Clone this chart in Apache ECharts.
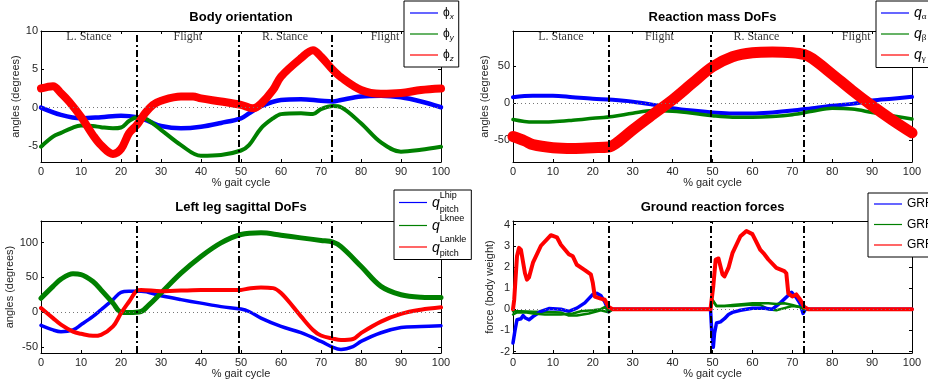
<!DOCTYPE html>
<html><head><meta charset="utf-8">
<script src="https://cdn.jsdelivr.net/npm/echarts@6/dist/echarts.min.js"></script>
<style>html,body{margin:0;padding:0;background:#fff}#c{width:928px;height:385px}</style>
</head><body><div id="c"></div>
<script>
// ---------- DATA ----------
const phaseBounds = [24, 49.5, 72.8];
const phaseNames = ['L. Stance', 'Flight', 'R. Stance', 'Flight'];
const phaseCenters = [12, 36.7, 61, 86];

// Panel 1: Body orientation (deg)
const phiX_t = [0,5,10,15,20,24,27,30,35,40,45,50,52,55,60,65,70,73,75,80,85,90,95,100];
const phiX   = [0,-0.95,-1.4,-1.25,-1.05,-1.25,-1.8,-2.4,-2.7,-2.5,-2.0,-1.4,-0.75,0.2,1.0,1.1,0.9,0.8,1.0,1.45,1.55,1.35,0.8,0.05];
const phiY_t = [0,3,5,8,10,13,15,18,20,22,24,26,30,35,40,45,50,52,55,58,60,65,68,70,73,75,80,85,90,95,100];
const phiY   = [-5.1,-3.8,-3.3,-2.6,-2.35,-2.4,-2.55,-2.7,-2.6,-1.75,-1.25,-1.4,-2.9,-4.9,-6.3,-6.2,-5.6,-4.9,-2.7,-1.4,-0.85,-0.75,-0.85,-0.2,0.2,0.05,-2.05,-4.55,-5.75,-5.5,-5.1];
const phiZ_t = [0,3,5,7,10,13,15,18,20,22,24,26,28,30,35,38,40,45,50,53,55,58,60,65,68,70,73,75,80,85,90,95,100];
const phiZ   = [2.5,2.8,1.9,0.8,-1.2,-3.6,-4.9,-6.05,-5.4,-3.35,-2.25,-0.75,0.35,0.9,1.45,1.45,1.2,0.8,0.35,-0.1,0.5,2.3,4.05,6.45,7.5,6.65,4.9,3.95,2.3,1.8,1.9,2.3,2.5];

// Panel 2: Reaction mass DoFs (deg)
const rm_t   = [0,5,10,15,20,25,30,35,40,45,50,55,60,65,70,75,80,85,90,95,100];
const qAlpha = [8,10,10,8,6,4.5,2,-2,-6.7,-10,-12.5,-14,-14,-12.5,-10,-6.7,-3.5,-1,3.5,6,8.5];
const qBeta  = [-22,-25.5,-25,-23,-20.5,-18,-13.5,-10,-11,-13.5,-17,-19,-19,-18,-15.5,-11,-7,-8,-12.5,-17,-21.5];
const qGamma_t = [0,3,5,10,15,20,24,26,30,35,40,45,50,55,60,65,70,73,75,80,85,90,95,100];
const qGamma   = [-45,-51,-56,-60,-61,-60,-59,-53.5,-36,-15.5,4.5,27,49,62.5,68,69,68,65.5,60,39,17,-3.5,-22.5,-40];

// Panel 3: Left leg sagittal DoFs (deg)
const hip_t = [0,3,5,8,10,13,15,18,20,22,25,30,35,40,45,50,52,55,60,65,70,73,75,78,80,85,90,95,100];
const hip   = [-19,-25.5,-28,-25.5,-18,-6,3.5,18,28.5,30,30,23.5,18,13,8,4.5,1,-8.5,-20.5,-29.5,-42,-50.5,-53.5,-49.5,-42,-29.5,-22,-20.5,-19.5];
const knee_t = [0,3,5,8,10,13,15,18,20,22,25,27,30,35,40,45,50,55,60,65,70,73,75,80,85,90,95,100];
const knee   = [20,37,47.5,55,54,44,32,13,0,-0.5,1,10.5,27.5,56,80,99.5,111.5,114,110.5,106.7,103,100.5,94,66,37,25,21.5,21];
const ankle_t = [0,3,5,8,10,13,15,18,20,22,24,25,30,40,50,52,55,58,60,63,65,68,70,73,75,78,80,85,90,95,100];
const ankle   = [6,-8.5,-18,-28,-31,-34,-32.5,-20.5,-1.5,15,31,32,30,32,32,34,35.5,34.5,27.5,8,-6,-25.5,-33.5,-38,-40,-38.5,-30,-13.5,-2.5,3.5,7];

// Panel 4: Ground reaction forces (body weight)
const grfX_t = [0,0.5,1,2,2.5,3,4,5,7,9,12,14,16,18,20,21,22,23,24,24.5,25,49.5,49.8,50.2,50.5,51,52,53,54,55,57,60,63,65,67,69.8,71,72,72.7,73.3,74,100];
const grfX   = [-1.6,-1.0,-0.5,-0.45,-0.3,-0.4,-0.5,-0.35,-0.1,0.03,0,-0.1,0.05,0.3,0.7,0.75,0.65,0.35,-0.1,0,0,0,-1.0,-1.8,-1.15,-0.65,-0.6,-0.45,-0.25,-0.15,-0.05,0.05,0.05,0.0,0.3,0.8,0.55,0.25,-0.2,0,0,0];
const grfY_t = [0,1,3,5,8,12,15,17,20,22,23,24,25,49.5,50,51,53,55,58,60,62,64,66,68,70,72,73,74,100];
const grfY   = [-0.25,-0.15,-0.15,-0.2,-0.25,-0.25,-0.2,-0.1,-0.05,0,0.1,-0.1,0,0,0.45,0.15,0.15,0.2,0.25,0.28,0.28,0.28,0.25,0.28,0.2,0.1,0.0,0,0];
const grfY2_t = [0,2,5,9,12,14,16,19,22,24,25,49.5,50,51,55,60,62,64,66,68,70,72,73,74];
const grfY2   = [-0.1,-0.1,-0.12,-0.13,-0.15,-0.3,-0.3,-0.2,-0.05,-0.15,0,0,0.4,0.15,0.15,0.22,0.2,0.0,-0.05,0.05,0.15,0.1,0,0];
const grfZ_t = [0,0.3,1,1.5,2,3,3.5,4,5,7,9.5,11,12,14,15,16,18,19.5,20,20.5,21,22,23,24,25,49.5,50.2,50.8,51.5,52.5,53,54,55,57,58.5,60,62,63,64,66,68,68.5,69,70,71,72,73,74,100];
const grfZ   = [0,0.45,2.5,2.9,2.8,1.7,1.4,1.5,2.2,3.0,3.5,3.4,3.05,2.6,2.5,2.1,1.85,1.65,1.25,0.6,0.6,0.5,0.45,0.1,0,0,1.1,2.35,2.4,1.65,1.55,1.95,2.65,3.45,3.7,3.55,2.8,2.6,2.35,1.95,1.8,1.7,0.75,0.6,0.7,0.45,0.1,0,0];

// Axes
const titles = ['Body orientation', 'Reaction mass DoFs', 'Left leg sagittal DoFs', 'Ground reaction forces'];
const yNames = ['angles (degrees)', 'angles (degrees)', 'angles (degrees)', 'force (body weight)'];
const xName = '% gait cycle';
const yLimits = [[-7.1, 10], [-79.3, 97.2], [-58.6, 130.9], [-2.07, 4.17]];
const yTicks = [[-5, 0, 5, 10], [-50, 0, 50], [-50, 0, 50, 100], [-2, -1, 0, 1, 2, 3, 4]];
const xTicksInterval = 10;
const phaseLabelY = [9.2, 89];

// ---------- CHART ----------
const zip = (xs, ys) => xs.map((x, i) => [x, ys[i]]);
const FONT = '"Liberation Sans", Arial, Helvetica, sans-serif';
const SERIF = '"Liberation Serif", "Times New Roman", serif';
const BLUE = '#0000ff', GREEN = '#008000', RED = '#ff0000';

const grids = [
  {left: 41, top: 31, width: 400, height: 131},
  {left: 513, top: 31, width: 399, height: 131},
  {left: 41, top: 221, width: 400, height: 132},
  {left: 513, top: 221, width: 399, height: 132}
];
const titleY = [17.3, 17.3, 207.7, 207.7];
const xNameGap = [15.5, 15.5, 14.5, 14.5];
const yNameGap = [17.3, 23, 22.7, 18];

const xAxes = [], yAxes = [];
grids.forEach((g, i) => {
  const common = {
    gridIndex: i, type: 'value', min: 0, max: 100, interval: xTicksInterval,
    axisLine: {show: true, onZero: false, lineStyle: {color: '#000', width: 1}},
    axisTick: {show: true, inside: true, length: 3, lineStyle: {color: '#000'}},
    splitLine: {show: false}
  };
  xAxes.push(Object.assign({}, common, {
    position: 'bottom',
    axisLabel: {show: true, color: '#262626', fontSize: 11, fontFamily: FONT, margin: 4},
    name: xName, nameLocation: 'middle', nameGap: xNameGap[i],
    nameTextStyle: {fontSize: 11, fontFamily: FONT, color: '#262626'}
  }));
  xAxes.push(Object.assign({}, common, {position: 'top', axisLabel: {show: false}}));
  const yc = {
    gridIndex: i, type: 'value', min: yLimits[i][0], max: yLimits[i][1],
    axisLine: {show: true, onZero: false, lineStyle: {color: '#000', width: 1}},
    axisTick: {show: true, inside: true, length: 3, lineStyle: {color: '#000'}, customValues: yTicks[i]},
    splitLine: {show: false}
  };
  yAxes.push(Object.assign({}, yc, {
    position: 'left',
    axisLabel: {show: true, color: '#262626', fontSize: 11, fontFamily: FONT, margin: 3, customValues: yTicks[i]},
    name: yNames[i], nameLocation: 'middle', nameGap: yNameGap[i], nameRotate: 90,
    nameTextStyle: {fontSize: 11, fontFamily: FONT, color: '#262626'}
  }));
  yAxes.push(Object.assign({}, yc, {position: 'right', axisLabel: {show: false}}));
});

function line(name, g, xs, ys, color, width, smooth) {
  return {
    type: 'line', name, xAxisIndex: 2 * g, yAxisIndex: 2 * g,
    data: zip(xs, ys), symbol: 'none', showSymbol: false,
    smooth: smooth === undefined ? 0.35 : smooth,
    lineStyle: {color, width, cap: 'round', join: 'round'},
    itemStyle: {color}, z: 3, animation: false
  };
}
const zeroLine = {
  silent: true, symbol: ['none', 'none'], label: {show: false}, animation: false,
  lineStyle: {color: '#777', type: [1, 3], width: 1}, data: [{yAxis: 0}]
};
const phaseLines = {
  silent: true, symbol: ['none', 'none'], label: {show: false}, animation: false,
  lineStyle: {color: '#000', type: [7, 3, 2, 3], width: 2},
  data: phaseBounds.map(v => ({xAxis: v}))
};

const series = [
  line('phix', 0, phiX_t, phiX, BLUE, 4.5),
  line('phiy', 0, phiY_t, phiY, GREEN, 4),
  line('phiz', 0, phiZ_t, phiZ, RED, 8),
  line('qa', 1, rm_t, qAlpha, BLUE, 4),
  line('qb', 1, rm_t, qBeta, GREEN, 3.5),
  line('qg', 1, qGamma_t, qGamma, RED, 11),
  line('qhip', 2, hip_t, hip, BLUE, 3.5),
  line('qknee', 2, knee_t, knee, GREEN, 5),
  line('qankle', 2, ankle_t, ankle, RED, 4),
  line('GRFx', 3, grfX_t, grfX, BLUE, 3.5, false),
  line('GRFy', 3, grfY_t, grfY, GREEN, 2.5, false),
  line('GRFz', 3, grfZ_t, grfZ, RED, 4, false),
  line('GRFy-b', 3, grfY2_t, grfY2, GREEN, 2.5, false)
];
// zero dotted lines under curves, phase lines on top
[0, 3, 6, 9].forEach(k => { series[k].markLine = zeroLine; });
[2, 5, 8, 11].forEach(k => { series[k].markLine = phaseLines; });
series[12].z = 2;

// phase text labels
[0, 1].forEach(g => {
  series.push({
    type: 'scatter', name: 'phases' + g, xAxisIndex: 2 * g, yAxisIndex: 2 * g,
    symbolSize: 0, silent: true, animation: false, z: 5,
    data: phaseCenters.map((c, i) => ({value: [c, phaseLabelY[g]], name: phaseNames[i]})),
    label: {show: true, position: 'inside', formatter: '{b}', color: '#000',
            fontFamily: SERIF, fontSize: 12}
  });
});

const legendFmt = {
  phix: '{a|ϕ}{s|x}', phiy: '{a|ϕ}{s|y}', phiz: '{a|ϕ}{s|z}',
  qa: '{q|q}{g|α}', qb: '{q|q}{g|β}', qg: '{q|q}{g|γ}',
  qhip: '{p|}{u|Lhip}\n{q2|q}{d|pitch}', qknee: '{p|}{u|Lknee}\n{q2|q}', qankle: '{p|}{u|Lankle}\n{q2|q}{d|pitch}',
  GRFx: '{a|GRF}{s|x}', GRFy: '{a|GRF}{s|y}', GRFz: '{a|GRF}{s|z}'
};
const rich = {
  a: {fontSize: 12, lineHeight: 14, fontFamily: FONT, color: '#000'},
  s: {fontSize: 8, height: 6, lineHeight: 14, verticalAlign: 'bottom', fontStyle: 'italic', fontFamily: FONT, color: '#000'},
  q: {fontSize: 14, lineHeight: 14, verticalAlign: 'middle', fontStyle: 'italic', fontFamily: FONT, color: '#000'},
  g: {fontSize: 9, height: 6, lineHeight: 14, verticalAlign: 'bottom', fontFamily: SERIF, color: '#000'},
  u: {fontSize: 9, height: 6, lineHeight: 10, verticalAlign: 'top', fontFamily: FONT, color: '#000'},
  p: {width: 7.8, lineHeight: 10},
  q2: {fontSize: 14, height: 2, lineHeight: 10, verticalAlign: 'top', fontStyle: 'italic', fontFamily: FONT, color: '#000'},
  d: {fontSize: 9, height: 6, lineHeight: 10, verticalAlign: 'bottom', fontFamily: FONT, color: '#000'}
};
function legend(names, left, top, padding, gap) {
  return {
    data: names, orient: 'vertical', left, top, padding, itemGap: gap,
    backgroundColor: '#fff', borderColor: '#000', borderWidth: 1, borderRadius: 0,
    icon: 'rect', itemWidth: 28, itemHeight: 1.2, selectedMode: false,
    formatter: n => legendFmt[n],
    textStyle: {fontFamily: FONT, fontSize: 12, color: '#000', lineHeight: 14, rich},
    z: 10
  };
}
const legends = [
  legend(['phix', 'phiy', 'phiz'], 404, 1, [5, 5, 4, 6], 6),
  legend(['qa', 'qb', 'qg'], 876, 1, [5, 5, 4, 5], 5.5),
  legend(['qhip', 'qknee', 'qankle'], 394, 190, [1, 5, 1, 5], 0),
  legend(['GRFx', 'GRFy', 'GRFz'], 868, 193, [4, 5, 4, 6], 5.5)
];

const graphic = titles.map((t, i) => ({
  type: 'text', x: grids[i].left + grids[i].width / 2, y: titleY[i], silent: true, z: 10,
  style: {text: t, font: 'bold 13px ' + FONT, textAlign: 'center', textVerticalAlign: 'middle', fill: '#000'}
}));

const chart = echarts.init(document.getElementById('c'), null, {renderer: 'canvas'});
chart.setOption({
  animation: false,
  backgroundColor: '#fff',
  grid: grids.map(g => Object.assign({containLabel: false, outerBoundsMode: 'none'}, g)),
  xAxis: xAxes, yAxis: yAxes,
  legend: legends,
  graphic,
  series
});
</script></body></html>
